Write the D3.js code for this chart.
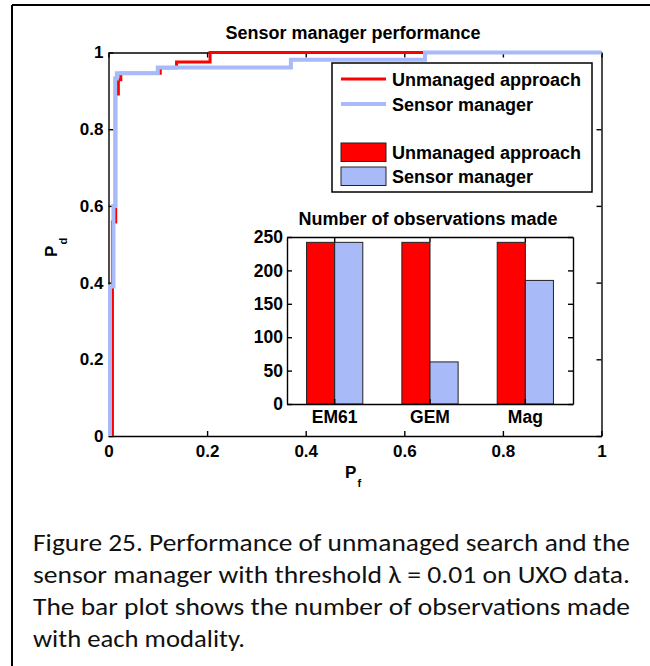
<!DOCTYPE html>
<html>
<head>
<meta charset="utf-8">
<script src="https://cdn.jsdelivr.net/npm/d3@7"></script>
<style>
  html, body { margin: 0; padding: 0; background: #fff; }
  svg { display: block; }
  .ax text { font-family: "Liberation Sans", Arial, Helvetica, sans-serif; font-weight: bold; fill: #000; }
  .ax path, .ax line { stroke: #000; stroke-width: 1.4; }
</style>
</head>
<body>
<svg id="chart" width="650" height="666"></svg>
<script>
// ---------- data ----------
const mainTitle = "Sensor manager performance";
const insetTitle = "Number of observations made";
const seriesNames = ["Unmanaged approach", "Sensor manager"];
const seriesColors = ["#ff0000", "#a8baf8"];

// ROC curve vertices (P_f, P_d)
const unmanagedPf = [0.008, 0.008, 0.0146, 0.0146, 0.020, 0.020, 0.025, 0.025, 0.105, 0.105, 0.138, 0.138, 0.206, 0.206, 1.000];
const unmanagedPd = [0.000, 0.558, 0.558, 0.892, 0.892, 0.929, 0.929, 0.946, 0.946, 0.960, 0.960, 0.975, 0.975, 1.000, 1.000];
const managerPf = [0.003, 0.003, 0.010, 0.010, 0.0135, 0.0135, 0.017, 0.017, 0.100, 0.100, 0.370, 0.370, 0.642, 0.642, 1.000];
const managerPd = [0.000, 0.390, 0.390, 0.600, 0.600, 0.932, 0.932, 0.946, 0.946, 0.961, 0.961, 0.981, 0.981, 1.000, 1.000];

// Inset bar chart
const modalities = ["EM61", "GEM", "Mag"];
const unmanagedCounts = [242, 242, 242];
const managerCounts = [242, 63, 185];

const mainTicks = [0, 0.2, 0.4, 0.6, 0.8, 1];
const insetTicks = [0, 50, 100, 150, 200, 250];

const captionLines = [
  "Figure 25.  Performance of unmanaged search and the",
  "sensor manager with threshold \u03BB = 0.01 on UXO data.",
  "The bar plot shows the number of observations made",
  "with each modality."
];

// ---------- layout ----------
const svg = d3.select("#chart");
const FONT = '"Liberation Sans", Arial, Helvetica, sans-serif';

// outer frame (top and left edges)
svg.append("line").attr("x1", 12).attr("y1", 5).attr("x2", 650).attr("y2", 5)
  .attr("stroke", "#000").attr("stroke-width", 2);
svg.append("line").attr("x1", 12).attr("y1", 5).attr("x2", 12).attr("y2", 666)
  .attr("stroke", "#000").attr("stroke-width", 2);

const M = { left: 108.5, right: 601.5, top: 52.5, bottom: 436 };
const x = d3.scaleLinear().domain([0, 1]).range([M.left, M.right]);
const y = d3.scaleLinear().domain([0, 1]).range([M.bottom, M.top]);
const fmt = d => d === 0 ? "0" : d === 1 ? "1" : d3.format(".1f")(d);

// main axes
const gB = svg.append("g").attr("class", "ax").attr("transform", `translate(0,${M.bottom})`)
  .call(d3.axisBottom(x).tickValues(mainTicks).tickFormat(fmt).tickSizeInner(-5).tickSizeOuter(0).tickPadding(8.5));
const gL = svg.append("g").attr("class", "ax").attr("transform", `translate(${M.left},0)`)
  .call(d3.axisLeft(y).tickValues(mainTicks).tickFormat(fmt).tickSizeInner(-5).tickSizeOuter(0).tickPadding(5));
svg.append("g").attr("class", "ax").attr("transform", `translate(0,${M.top})`)
  .call(d3.axisTop(x).tickValues(mainTicks).tickFormat("").tickSizeInner(-5).tickSizeOuter(0));
svg.append("g").attr("class", "ax").attr("transform", `translate(${M.right},0)`)
  .call(d3.axisRight(y).tickValues(mainTicks).tickFormat("").tickSizeInner(-5).tickSizeOuter(0));
[gB, gL].forEach(g => g.selectAll("text").style("font-size", "17px"));

// titles / labels
svg.append("text").attr("x", 353).attr("y", 39).attr("text-anchor", "middle")
  .style("font-family", FONT).style("font-weight", "bold").style("font-size", "18px").text(mainTitle);
svg.append("text").attr("x", 345).attr("y", 478)
  .style("font-family", FONT).style("font-weight", "bold").style("font-size", "17px").text("P");
svg.append("text").attr("x", 357.5).attr("y", 487)
  .style("font-family", FONT).style("font-weight", "bold").style("font-size", "11px").text("f");
const yl = svg.append("g").attr("transform", "translate(57,257) rotate(-90)");
yl.append("text").attr("x", 0).attr("y", 0)
  .style("font-family", FONT).style("font-weight", "bold").style("font-size", "17px").text("P");
yl.append("text").attr("x", 12.5).attr("y", 9.5)
  .style("font-family", FONT).style("font-weight", "bold").style("font-size", "11px").text("d");

// ROC curves
const line = d3.line().x(d => x(d[0])).y(d => y(d[1]));
const rocSets = [
  d3.zip(unmanagedPf, unmanagedPd),
  d3.zip(managerPf, managerPd)
];
const rocWidths = [3, 4];
rocSets.forEach((pts, i) => {
  svg.append("path").datum(pts).attr("d", line)
    .attr("fill", "none").attr("stroke", seriesColors[i]).attr("stroke-width", rocWidths[i])
    .attr("stroke-linejoin", "miter");
});

// legend
const lg = svg.append("g");
lg.append("rect").attr("x", 332).attr("y", 63).attr("width", 260).attr("height", 129)
  .attr("fill", "#fff").attr("stroke", "#000").attr("stroke-width", 1.5);
const legendRows = [
  { type: "line", i: 0, y: 79 },
  { type: "line", i: 1, y: 104 },
  { type: "rect", i: 0, y: 152 },
  { type: "rect", i: 1, y: 176 }
];
legendRows.forEach(r => {
  if (r.type === "line") {
    lg.append("line").attr("x1", 341).attr("x2", 386).attr("y1", r.y).attr("y2", r.y)
      .attr("stroke", seriesColors[r.i]).attr("stroke-width", rocWidths[r.i]);
  } else {
    lg.append("rect").attr("x", 341).attr("y", r.y - 9).attr("width", 45).attr("height", 18.5)
      .attr("fill", seriesColors[r.i]).attr("stroke", "#222").attr("stroke-width", 1);
  }
  lg.append("text").attr("x", 392).attr("y", r.y + 6.5)
    .style("font-family", FONT).style("font-weight", "bold").style("font-size", "18px")
    .text(seriesNames[r.i]);
});

// ---------- inset bar chart ----------
const I = { left: 287, right: 573, top: 237, bottom: 404 };
const ig = svg.append("g");
ig.append("rect").attr("x", I.left).attr("y", I.top).attr("width", I.right - I.left).attr("height", I.bottom - I.top)
  .attr("fill", "#fff");
const xb = d3.scaleBand().domain(modalities).range([I.left, I.right]).paddingInner(0.41).paddingOuter(0.205);
const xs = d3.scaleBand().domain([0, 1]).range([0, xb.bandwidth()]).padding(0);
const yb = d3.scaleLinear().domain([0, 250]).range([I.bottom, I.top]);
const countSets = [unmanagedCounts, managerCounts];
modalities.forEach((m, k) => {
  countSets.forEach((vals, i) => {
    ig.append("rect")
      .attr("x", xb(m) + xs(i)).attr("y", yb(vals[k]))
      .attr("width", xs.bandwidth()).attr("height", yb(0) - yb(vals[k]))
      .attr("fill", seriesColors[i]).attr("stroke", "#222").attr("stroke-width", 1);
  });
});
const iB = ig.append("g").attr("class", "ax").attr("transform", `translate(0,${I.bottom})`)
  .call(d3.axisBottom(xb).tickSizeInner(-5).tickSizeOuter(0).tickPadding(7));
const iL = ig.append("g").attr("class", "ax").attr("transform", `translate(${I.left},0)`)
  .call(d3.axisLeft(yb).tickValues(insetTicks).tickSizeInner(-5).tickSizeOuter(0).tickPadding(4));
ig.append("g").attr("class", "ax").attr("transform", `translate(0,${I.top})`)
  .call(d3.axisTop(xb).tickFormat("").tickSizeInner(-5).tickSizeOuter(0));
ig.append("g").attr("class", "ax").attr("transform", `translate(${I.right},0)`)
  .call(d3.axisRight(yb).tickValues(insetTicks).tickFormat("").tickSizeInner(-5).tickSizeOuter(0));
[iB, iL].forEach(g => g.selectAll("text").style("font-size", "17.5px"));
ig.append("text").attr("x", 428).attr("y", 225).attr("text-anchor", "middle")
  .style("font-family", FONT).style("font-weight", "bold").style("font-size", "18px").text(insetTitle);

// ---------- caption ----------
const capWidths = [597, 597, 597, 212];
const capBase = [551, 583, 615, 647];
captionLines.forEach((t, i) => {
  svg.append("text").attr("x", 33).attr("y", capBase[i])
    .attr("textLength", capWidths[i]).attr("lengthAdjust", "spacingAndGlyphs")
    .style("font-family", 'Carlito, Calibri, Lato, "Open Sans", sans-serif')
    .style("font-size", "24px").style("fill", "#111").text(t);
});
</script>
</body>
</html>
